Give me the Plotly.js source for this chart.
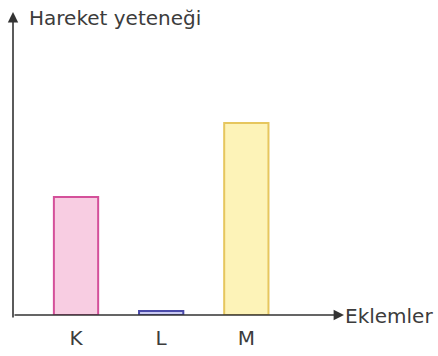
<!DOCTYPE html>
<html>
<head>
<meta charset="utf-8">
<script src="https://cdn.plot.ly/plotly-3.0.1.min.js"></script>
<style>html,body{margin:0;padding:0;background:#fff;}#chart{width:438px;height:356px;}</style>
</head>
<body>
<div id="chart"></div>
<script>
const categories = ['K', 'L', 'M'];
const values = [3.69, 0.125, 6.0];
const fillColors = ['#f8cde2', '#c9c9f2', '#fdf3b8'];
const lineColors = ['#d4509a', '#4a4aaa', '#e6c65e'];
const yAxisLabel = 'Hareket yeteneği';
const xAxisLabel = 'Eklemler';

const W = 438, H = 356;
const L = 13, R = 98, T = 22, B = 41;
const pw = W - L - R, ph = H - T - B;
const axisColor = '#333333';
const font = 'DejaVu Sans, Arial, sans-serif';

const trace = {
  type: 'bar',
  x: categories,
  y: values,
  width: 0.52,
  marker: { color: fillColors, line: { color: lineColors, width: 2 } },
  hoverinfo: 'none'
};

const layout = {
  width: W, height: H,
  margin: { l: L, r: R, t: T, b: B, pad: 0 },
  paper_bgcolor: '#ffffff', plot_bgcolor: '#ffffff',
  showlegend: false,
  xaxis: {
    type: 'category',
    range: [-0.74, 3.1],
    showgrid: false, zeroline: false, showline: false,
    ticks: '', ticklabelstandoff: 9,
    tickfont: { family: font, size: 20, color: '#3c3c3c' },
    fixedrange: true
  },
  yaxis: {
    range: [0, ph / 32],
    showgrid: false, zeroline: false, showline: false,
    showticklabels: false, ticks: '',
    fixedrange: true
  },
  annotations: [
    { xref: 'paper', yref: 'paper', x: 0, y: (H - B - 12) / ph, ax: 0, ay: 307,
      axref: 'pixel', ayref: 'pixel', text: '', showarrow: true,
      arrowhead: 2, arrowsize: 1.3, arrowwidth: 1.6, arrowcolor: axisColor },
    { xref: 'paper', yref: 'paper', x: (344 - L) / pw, y: 0, ax: -331, ay: 0,
      axref: 'pixel', ayref: 'pixel', text: '', showarrow: true,
      arrowhead: 2, arrowsize: 1.3, arrowwidth: 1.6, arrowcolor: axisColor },
    { xref: 'paper', yref: 'paper', x: (27 - L) / pw, y: (H - B - 18) / ph,
      xanchor: 'left', yanchor: 'middle', showarrow: false, text: yAxisLabel,
      font: { family: font, size: 20, color: '#3c3c3c' } },
    { xref: 'paper', yref: 'paper', x: (343 - L) / pw, y: (H - B - 316) / ph,
      xanchor: 'left', yanchor: 'middle', showarrow: false, text: xAxisLabel,
      font: { family: font, size: 20, color: '#3c3c3c' } }
  ]
};

Plotly.newPlot('chart', [trace], layout, { displayModeBar: false, staticPlot: true });
</script>
</body>
</html>
